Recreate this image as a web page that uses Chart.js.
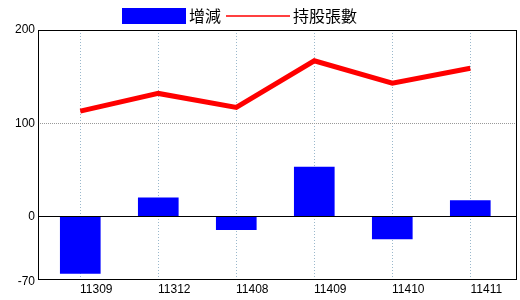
<!DOCTYPE html>
<html><head><meta charset="utf-8">
<script src="https://cdn.jsdelivr.net/npm/chart.js@4/dist/chart.umd.min.js"></script>
<style>html,body{margin:0;padding:0;background:#fff}#wrap{width:520px;height:300px}</style>
</head><body><div id="wrap"><canvas id="c" width="520" height="300"></canvas></div>
<script>
const categories = ['11309', '11312', '11408', '11409', '11410', '11411'];
const changes = [-61, 20, -14, 53, -24, 17];
const holdings = [113, 132, 117, 167, 143, 159];
const yTickValues = [-70, 0, 100, 200];
const seriesNames = ['增減', '持股張數'];

const tickFont = { family: '"Liberation Sans Narrow", "Liberation Sans", Arial, sans-serif', size: 12 };

const framePlugin = {
  id: 'frame',
  afterDatasetsDraw(chart) {
    const { ctx, chartArea: a, scales: { y } } = chart;
    ctx.save();
    ctx.strokeStyle = '#000';
    ctx.lineWidth = 1;
    const zy = Math.floor(y.getPixelForValue(0)) + 0.5;
    ctx.beginPath();
    ctx.moveTo(a.left, zy);
    ctx.lineTo(a.right, zy);
    ctx.stroke();
    ctx.restore();
  },
  afterDraw(chart) {
    const { ctx, chartArea: a } = chart;
    ctx.save();
    ctx.strokeStyle = '#000';
    ctx.lineWidth = 1;
    ctx.strokeRect(a.left + 0.5, a.top + 0.5, a.right - a.left, a.bottom - a.top);
    const ds = chart.data.datasets;
    ctx.font = '16px "Noto Sans CJK TC", sans-serif';
    ctx.textBaseline = 'middle';
    ctx.fillStyle = ds[0].backgroundColor;
    ctx.fillRect(122, 8, 64, 16);
    ctx.fillStyle = '#000';
    ctx.fillText(ds[0].label, 189, 16);
    ctx.strokeStyle = ds[1].borderColor;
    ctx.lineWidth = 1.5;
    ctx.beginPath();
    ctx.moveTo(226, 16);
    ctx.lineTo(290, 16);
    ctx.stroke();
    ctx.fillStyle = '#000';
    ctx.fillText(ds[1].label, 293, 16);
    ctx.restore();
  }
};

new Chart(document.getElementById('c'), {
  data: {
    datasets: [
      {
        type: 'bar',
        label: seriesNames[0],
        data: categories.map((c, i) => ({ x: i, y: changes[i] })),
        backgroundColor: '#0000ff',
        borderWidth: 0,
        barThickness: 40,
        order: 2
      },
      {
        type: 'line',
        label: seriesNames[1],
        data: categories.map((c, i) => ({ x: i, y: holdings[i] })),
        borderColor: '#ff0000',
        backgroundColor: '#ff0000',
        borderWidth: 5,
        pointRadius: 0,
        tension: 0,
        borderCapStyle: 'butt',
        order: 1
      }
    ]
  },
  options: {
    responsive: false,
    animation: false,
    layout: { padding: { top: 30, right: 4, bottom: 0, left: 0 } },
    plugins: { legend: { display: false }, tooltip: { enabled: false } },
    scales: {
      x: {
        type: 'linear',
        offset: false,
        min: -0.542,
        max: 5.586,
        afterBuildTicks(scale) { scale.ticks = categories.map((c, i) => ({ value: i })); },
        afterFit(scale) { scale.height = 21; },
        ticks: {
          callback: (v) => categories[v],
          font: tickFont,
          color: '#000',
          padding: 3,
          labelOffset: 16,
          maxRotation: 0,
          autoSkip: false
        },
        grid: { offset: false, drawTicks: false, color: '#9ab8cc', lineWidth: 1 },
        border: { display: false, dash: [1, 2] }
      },
      y: {
        type: 'linear',
        min: -67,
        max: 200,
        afterBuildTicks(scale) { scale.ticks = yTickValues.map(v => ({ value: v })); },
        afterFit(scale) { scale.width = 38; },
        ticks: { font: tickFont, color: '#000', padding: 3, callback: (v) => String(v) },
        grid: {
          drawTicks: false,
          color: (ctx) => (ctx.tick && ctx.tick.value === 100 ? '#999999' : 'rgba(0,0,0,0)'),
          lineWidth: 1
        },
        border: { display: false, dash: [1, 1] }
      }
    }
  },
  plugins: [framePlugin]
});
</script>
</body></html>
